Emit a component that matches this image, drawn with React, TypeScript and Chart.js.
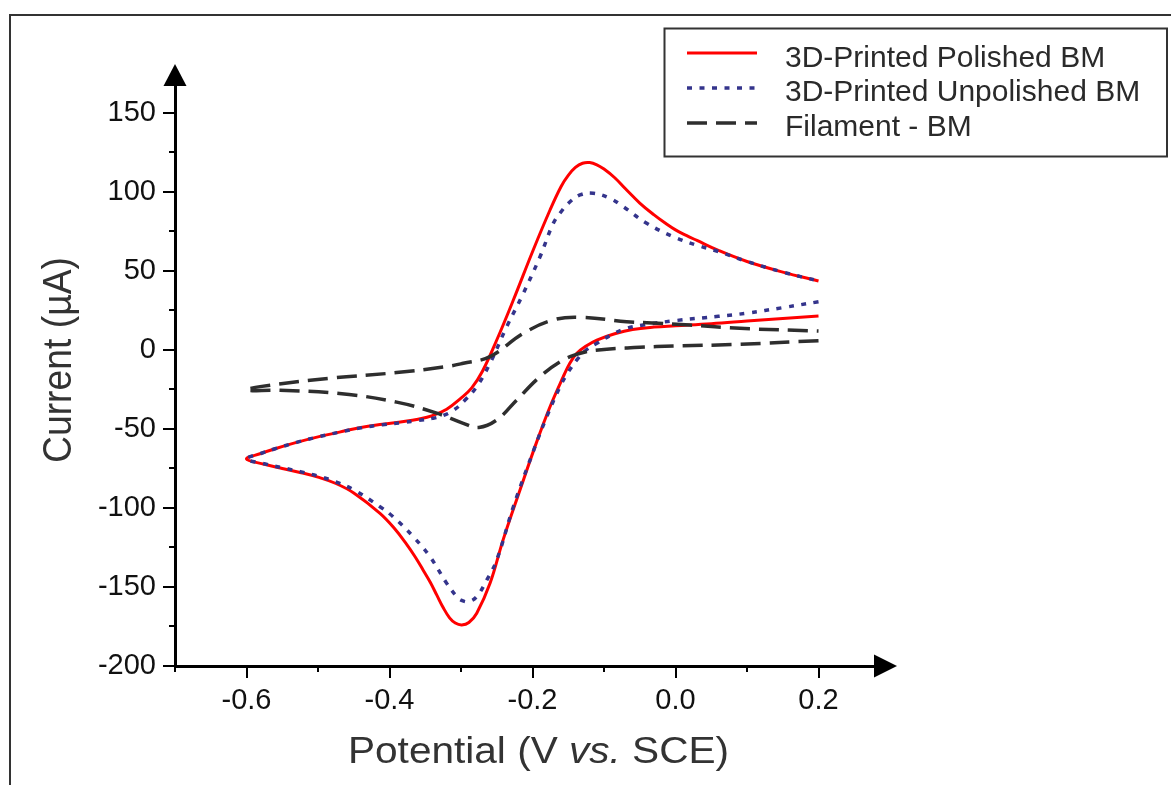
import React, { useEffect, useRef } from "react";
import { Chart, registerables } from "chart.js";

Chart.register(...registerables);

// ---------- data (V vs. SCE, µA) ----------
// 3D-Printed Polished BM : reverse branch from 0.2 V to -0.6 V, then forward branch back to 0.2 V
const polishedX = [
  0.2, 0.15, 0.1, 0.05, 0.0, -0.03, -0.06, -0.085, -0.11, -0.125, -0.138, -0.148, -0.157, -0.1755, -0.194,
  -0.2175, -0.241, -0.2594, -0.278, -0.289, -0.299, -0.308, -0.316, -0.325, -0.334, -0.343, -0.3527, -0.364,
  -0.376, -0.393, -0.4133, -0.45, -0.475, -0.5, -0.525, -0.55, -0.575, -0.6,
  -0.58, -0.56, -0.53, -0.5, -0.47, -0.44, -0.41, -0.38, -0.36, -0.34, -0.32, -0.3, -0.285, -0.27, -0.25,
  -0.2268, -0.199, -0.1755, -0.16, -0.15, -0.14, -0.13, -0.12, -0.11, -0.1, -0.085, -0.07, -0.05, -0.03,
  -0.015, 0.0, 0.015, 0.03, 0.06, 0.1, 0.15, 0.2,
];
const polishedY = [
  21.5, 20.0, 18.3, 16.6, 15.3, 14.5, 13.0, 10.3, 6.3, 2.5, -2.1, -8.5, -16.9, -35.9, -58.0,
  -88.6, -120.0, -147.7, -166.6, -172.5, -174.0, -172.8, -169.5, -163.0, -155.0, -147.0, -139.5, -131.0,
  -123.0, -113.0, -103.4, -90.5, -84.5, -80.5, -77.5, -75.0, -72.3, -69.0,
  -65.5, -62.5, -58.5, -55.0, -52.0, -49.0, -47.0, -45.3, -43.8, -41.5, -37.5, -30.5, -24.0, -13.5, 6.3,
  31.6, 63.3, 88.6, 103.5, 110.5, 115.5, 118.2, 118.6, 117.2, 114.5, 109.0, 102.0, 93.0, 85.5,
  80.5, 76.0, 72.5, 69.3, 63.0, 56.0, 49.3, 43.7,
];

// 3D-Printed Unpolished BM
const unpolishedX = [
  0.2, 0.15, 0.1, 0.06, 0.0, -0.045, -0.07, -0.09, -0.11, -0.125, -0.138, -0.15, -0.1615, -0.18, -0.1965,
  -0.2268, -0.25, -0.264, -0.278, -0.2898, -0.3, -0.306, -0.32, -0.3434, -0.3667, -0.395, -0.4133, -0.45,
  -0.475, -0.5, -0.525, -0.55, -0.575, -0.6,
  -0.58, -0.56, -0.53, -0.5, -0.47, -0.44, -0.41, -0.38, -0.36, -0.34, -0.325, -0.31, -0.295, -0.278, -0.2594,
  -0.236, -0.2151, -0.1895, -0.1709, -0.16, -0.15, -0.1336, -0.115, -0.0916, -0.073, -0.0403, -0.003,
  0.03, 0.06, 0.1, 0.15, 0.2,
];
const unpolishedY = [
  30.5, 26.8, 23.3, 21.3, 18.6, 15.8, 13.5, 9.5, 4.2, 0.0, -6.3, -14.0, -23.2, -42.2, -61.2,
  -99.2, -132.9, -145.6, -156.1, -159.3, -158.3, -156.1, -147.7, -130.8, -118.2, -105.5, -99.2, -88.5,
  -83.5, -79.8, -77.0, -74.5, -72.0, -69.0,
  -65.5, -62.5, -58.5, -55.0, -52.0, -49.3, -47.3, -45.8, -44.6, -43.3, -41.5, -38.0, -32.0, -23.2, -8.4,
  14.8, 33.7, 59.0, 80.2, 87.5, 92.8, 98.1, 99.2, 96.0, 90.7, 80.2, 71.7,
  66.3, 62.3, 56.0, 49.3, 43.7,
];

// Filament - BM
const filamentX = [
  0.2, 0.09, -0.003, -0.05, -0.07, -0.1, -0.129, -0.157, -0.1895, -0.222, -0.25, -0.275, -0.2968, -0.334,
  -0.39, -0.47, -0.553, -0.6,
  -0.581, -0.483, -0.39, -0.32, -0.2968, -0.2594, -0.2129, -0.171, -0.1336, -0.0683, -0.04, 0.02, 0.09, 0.2,
];
const filamentY = [
  5.9, 3.6, 2.5, 1.7, 1.2, 0.3, -1.6, -6.3, -16.9, -31.6, -44.3, -49.0, -46.4, -40.0,
  -33.0, -27.5, -25.5, -25.5,
  -23.2, -17.9, -14.3, -10.5, -8.4, -4.2, 10.5, 19.0, 20.7, 17.9, 17.2, 15.8, 13.7, 12.0,
];

const seriesLabels = ["3D-Printed Polished BM", "3D-Printed Unpolished BM", "Filament - BM"];

const xMajorTicks = [-0.6, -0.4, -0.2, 0.0, 0.2];
const xMinorTicks = [-0.7, -0.5, -0.3, -0.1, 0.1];
const yMajorTicks = [-200, -150, -100, -50, 0, 50, 100, 150];
const yMinorTicks = [-175, -125, -75, -25, 25, 75, 125];

const xTitleParts = ["Potential (V ", "vs.", " SCE)"];
const yTitle = "Current (µA)";

// ---------- styles ----------
const FONT = '"Liberation Sans", Arial, Helvetica, sans-serif';
const W = 1171;
const H = 785;

const zip = (xs: number[], ys: number[]) => xs.map((x, i) => ({ x, y: ys[i] }));

const decorPlugin = {
  id: "decor",
  afterDraw(chart: any) {
    const ctx: CanvasRenderingContext2D = chart.ctx;
    const xs = chart.scales.x;
    const ys = chart.scales.y;
    const area = chart.chartArea;
    ctx.save();

    // outer frame (top and left)
    ctx.strokeStyle = "#333";
    ctx.lineWidth = 2;
    ctx.setLineDash([]);
    ctx.beginPath();
    ctx.moveTo(10, H);
    ctx.lineTo(10, 15);
    ctx.lineTo(W, 15);
    ctx.stroke();

    // minor ticks
    ctx.strokeStyle = "#000";
    ctx.lineWidth = 2;
    ctx.beginPath();
    xMinorTicks.forEach((v) => {
      const px = Math.round(xs.getPixelForValue(v));
      ctx.moveTo(px, area.bottom);
      ctx.lineTo(px, area.bottom + 6);
    });
    yMinorTicks.forEach((v) => {
      const py = Math.round(ys.getPixelForValue(v));
      ctx.moveTo(area.left, py);
      ctx.lineTo(area.left - 6, py);
    });
    ctx.stroke();

    // arrows
    ctx.fillStyle = "#000";
    ctx.beginPath();
    ctx.moveTo(area.left, area.top - 21);
    ctx.lineTo(area.left - 11.5, area.top + 1);
    ctx.lineTo(area.left + 11.5, area.top + 1);
    ctx.closePath();
    ctx.fill();
    ctx.beginPath();
    ctx.moveTo(area.right + 22, area.bottom);
    ctx.lineTo(area.right - 1, area.bottom - 11.5);
    ctx.lineTo(area.right - 1, area.bottom + 11.5);
    ctx.closePath();
    ctx.fill();

    // x title (mixed roman / italic)
    ctx.fillStyle = "#333";
    ctx.textBaseline = "alphabetic";
    ctx.textAlign = "left";
    const fonts = [`37px ${FONT}`, `italic 37px ${FONT}`, `37px ${FONT}`];
    const widths = xTitleParts.map((t, i) => {
      ctx.font = fonts[i];
      return ctx.measureText(t).width;
    });
    const total = widths.reduce((a, b) => a + b, 0);
    const sx = 381 / total;
    ctx.save();
    ctx.translate(538.5, 763);
    ctx.scale(sx, 1);
    let cx = -total / 2;
    xTitleParts.forEach((t, i) => {
      ctx.font = fonts[i];
      ctx.fillText(t, cx, 0);
      cx += widths[i];
    });
    ctx.restore();

    // y title
    ctx.save();
    ctx.font = `40px ${FONT}`;
    const yw = ctx.measureText(yTitle).width;
    ctx.translate(60, 360);
    ctx.rotate(-Math.PI / 2);
    ctx.scale(206 / yw, 1);
    ctx.textAlign = "center";
    ctx.textBaseline = "middle";
    ctx.fillText(yTitle, 0, 0);
    ctx.restore();

    // legend
    ctx.strokeStyle = "#333";
    ctx.lineWidth = 2;
    ctx.setLineDash([]);
    ctx.strokeRect(664.5, 28.5, 502.5, 128);
    chart.data.datasets.forEach((ds: any, i: number) => {
      const y = 53 + 35 * i;
      ctx.strokeStyle = ds.borderColor;
      ctx.lineWidth = ds.borderWidth;
      ctx.setLineDash(ds.borderDash || []);
      ctx.lineCap = "butt";
      ctx.beginPath();
      ctx.moveTo(687, y);
      ctx.lineTo(757, y);
      ctx.stroke();
      ctx.setLineDash([]);
      ctx.fillStyle = "#2a2a2a";
      ctx.font = `30px ${FONT}`;
      ctx.textAlign = "left";
      ctx.textBaseline = "alphabetic";
      ctx.fillText(ds.label, 785, 66.7 + 34.5 * i);
    });

    ctx.restore();
  },
};

export default function App() {
  const ref = useRef<HTMLCanvasElement | null>(null);

  useEffect(() => {
    if (!ref.current) return;
    const chart = new Chart(ref.current, {
      type: "scatter",
      data: {
        datasets: [
          {
            label: seriesLabels[0],
            data: zip(polishedX, polishedY),
            showLine: true,
            borderColor: "#ff0000",
            borderWidth: 3,
            pointRadius: 0,
            tension: 0.4,
            fill: false,
            order: 3,
          },
          {
            label: seriesLabels[1],
            data: zip(unpolishedX, unpolishedY),
            showLine: true,
            borderColor: "#34348c",
            borderWidth: 3.5,
            borderDash: [5, 7.5],
            pointRadius: 0,
            tension: 0.4,
            fill: false,
            order: 2,
          },
          {
            label: seriesLabels[2],
            data: zip(filamentX, filamentY),
            showLine: true,
            borderColor: "#2e2e2e",
            borderWidth: 3.5,
            borderDash: [20, 9],
            pointRadius: 0,
            tension: 0.4,
            fill: false,
            order: 1,
          },
        ],
      },
      options: {
        animation: false,
        responsive: false,
        devicePixelRatio: 1,
        layout: { padding: { top: 85, right: W - 875, left: 0, bottom: 0 } },
        plugins: {
          legend: { display: false },
          tooltip: { enabled: false },
          title: { display: false },
        },
        scales: {
          x: {
            type: "linear",
            min: -0.7,
            max: 0.279,
            afterBuildTicks: (s: any) => {
              s.ticks = xMajorTicks.map((v) => ({ value: v }));
            },
            afterFit: (s: any) => {
              s.height = H - 666;
            },
            grid: { drawOnChartArea: false, drawTicks: true, tickLength: 12, lineWidth: 2, color: "#000" },
            border: { display: true, width: 3, color: "#000" },
            ticks: {
              autoSkip: false,
              maxRotation: 0,
              padding: 6,
              color: "#111",
              font: { family: FONT, size: 29 },
              callback: (v: any) => Number(v).toFixed(1),
            },
            title: { display: false },
          },
          y: {
            type: "linear",
            min: -200,
            max: 167.7,
            afterBuildTicks: (s: any) => {
              s.ticks = yMajorTicks.map((v) => ({ value: v }));
            },
            afterFit: (s: any) => {
              s.width = 175;
            },
            grid: { drawOnChartArea: false, drawTicks: true, tickLength: 12, lineWidth: 2, color: "#000" },
            border: { display: true, width: 3, color: "#000" },
            ticks: {
              autoSkip: false,
              padding: 7,
              color: "#111",
              font: { family: FONT, size: 29 },
              callback: (v: any) => String(v),
            },
            title: { display: false },
          },
        },
      },
      plugins: [decorPlugin],
    } as any);
    return () => chart.destroy();
  }, []);

  return (
    <div style={{ position: "absolute", left: 0, top: 0, width: W, height: H, background: "#fff" }}>
      <canvas ref={ref} width={W} height={H} style={{ display: "block", width: W, height: H }} />
    </div>
  );
}
